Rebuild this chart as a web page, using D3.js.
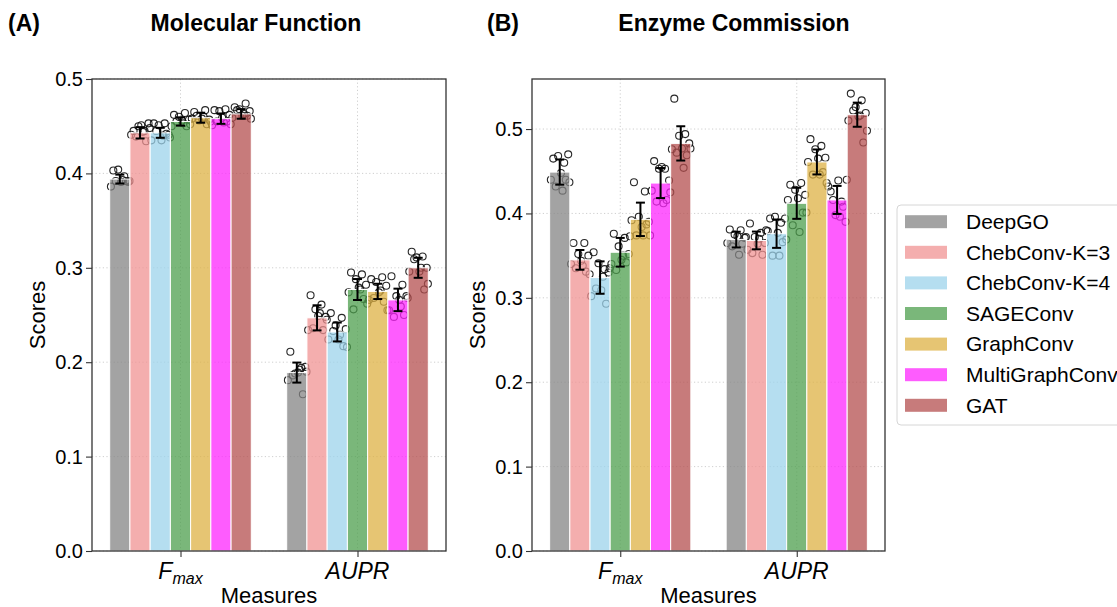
<!DOCTYPE html>
<html>
<head>
<meta charset="utf-8">
<script src="https://cdn.jsdelivr.net/npm/d3@7"></script>
<style>
  body { margin: 0; background: #fff; }
  svg { display: block; }
  text { font-family: "Liberation Sans", Arial, Helvetica, sans-serif; fill: #000; }
</style>
</head>
<body>
<svg id="chart" width="1117" height="607"></svg>
<script>
// ---- data -------------------------------------------------------------
const models = ["DeepGO", "ChebConv-K=3", "ChebConv-K=4", "SAGEConv", "GraphConv", "MultiGraphConv", "GAT"];
const measures = ["Fmax", "AUPR"];
const modelColors = ["#848484", "#f09393", "#9cd3eb", "#4e9f4e", "#deb244", "#fe26fe", "#b44f4f"];
const yTickValues = [0.0, 0.1, 0.2, 0.3, 0.4, 0.5];

// Molecular Function: mean score, error half-width, per-run scores
const mfFmaxMean = [0.394, 0.443, 0.443, 0.455, 0.459, 0.458, 0.463];
const mfFmaxErr  = [0.0047, 0.0060, 0.0053, 0.0044, 0.0053, 0.0055, 0.0051];
const mfFmaxRuns = [
  [0.403, 0.397, 0.404, 0.391, 0.391, 0.386, 0.392, 0.392, 0.393, 0.392],
  [0.445, 0.445, 0.450, 0.453, 0.451, 0.441, 0.434, 0.439, 0.444, 0.448],
  [0.453, 0.453, 0.451, 0.441, 0.435, 0.435, 0.442, 0.445, 0.440, 0.438],
  [0.462, 0.464, 0.460, 0.457, 0.456, 0.450, 0.450, 0.455, 0.453, 0.452],
  [0.465, 0.467, 0.456, 0.457, 0.458, 0.458, 0.452, 0.461, 0.460, 0.455],
  [0.467, 0.468, 0.466, 0.462, 0.459, 0.451, 0.455, 0.455, 0.454, 0.452],
  [0.470, 0.474, 0.468, 0.466, 0.461, 0.459, 0.461, 0.467, 0.463, 0.458]
];
const mfAuprMean = [0.189, 0.247, 0.232, 0.277, 0.275, 0.266, 0.300];
const mfAuprErr  = [0.0106, 0.0133, 0.0100, 0.0111, 0.0081, 0.0119, 0.0106];
const mfAuprRuns = [
  [0.211, 0.194, 0.188, 0.195, 0.189, 0.181, 0.166, 0.186, 0.192, 0.190],
  [0.271, 0.261, 0.256, 0.248, 0.249, 0.234, 0.234, 0.236, 0.252, 0.245],
  [0.252, 0.247, 0.239, 0.235, 0.224, 0.224, 0.217, 0.233, 0.229, 0.216],
  [0.295, 0.293, 0.288, 0.282, 0.279, 0.274, 0.267, 0.256, 0.277, 0.262],
  [0.288, 0.290, 0.285, 0.281, 0.274, 0.266, 0.264, 0.268, 0.276, 0.255],
  [0.291, 0.282, 0.270, 0.270, 0.266, 0.255, 0.250, 0.248, 0.259, 0.268],
  [0.317, 0.312, 0.311, 0.300, 0.296, 0.296, 0.277, 0.309, 0.300, 0.283]
];

// Enzyme Commission
const ecFmaxMean = [0.449, 0.345, 0.324, 0.354, 0.393, 0.436, 0.483];
const ecFmaxErr  = [0.0149, 0.0117, 0.0192, 0.0170, 0.0198, 0.0178, 0.0203];
const ecFmaxRuns = [
  [0.465, 0.460, 0.468, 0.470, 0.448, 0.440, 0.440, 0.432, 0.427, 0.437],
  [0.365, 0.365, 0.352, 0.350, 0.344, 0.340, 0.331, 0.335, 0.338, 0.328],
  [0.354, 0.334, 0.341, 0.330, 0.309, 0.302, 0.293, 0.311, 0.325, 0.335],
  [0.376, 0.371, 0.361, 0.352, 0.345, 0.340, 0.342, 0.333, 0.350, 0.373],
  [0.437, 0.426, 0.396, 0.390, 0.384, 0.392, 0.387, 0.374, 0.374, 0.374],
  [0.462, 0.453, 0.453, 0.439, 0.455, 0.427, 0.416, 0.414, 0.412, 0.425],
  [0.536, 0.494, 0.492, 0.483, 0.477, 0.476, 0.469, 0.472, 0.454, 0.477]
];
const ecAuprMean = [0.369, 0.368, 0.376, 0.412, 0.461, 0.416, 0.517];
const ecAuprErr  = [0.0093, 0.0105, 0.0168, 0.0184, 0.0148, 0.0166, 0.0143];
const ecAuprRuns = [
  [0.381, 0.380, 0.375, 0.371, 0.373, 0.365, 0.364, 0.361, 0.351, 0.372],
  [0.388, 0.377, 0.372, 0.365, 0.364, 0.357, 0.351, 0.353, 0.370, 0.380],
  [0.394, 0.389, 0.396, 0.394, 0.377, 0.379, 0.366, 0.350, 0.350, 0.369],
  [0.434, 0.436, 0.428, 0.422, 0.418, 0.416, 0.401, 0.386, 0.378, 0.401],
  [0.488, 0.480, 0.476, 0.466, 0.465, 0.461, 0.449, 0.446, 0.446, 0.436],
  [0.426, 0.414, 0.398, 0.390, 0.439, 0.432, 0.408, 0.416, 0.396, 0.440],
  [0.542, 0.534, 0.526, 0.519, 0.515, 0.510, 0.484, 0.522, 0.516, 0.498]
];

// ---- drawing ----------------------------------------------------------
const svg = d3.select("#chart");
const font = "Liberation Sans, Arial, Helvetica, sans-serif";

// horizontal spread of the individual runs, as a fraction of a bar width
const spread = [-0.32, 0.22, -0.08, 0.42, 0.06, -0.44, 0.30, -0.20, 0.14, 0.48];

function panel(cfg) {
  const { left, right, top, bottom, yMax, series, tag, title, titleX, tagX, ylabX } = cfg;
  const g = svg.append("g");

  const x = d3.scaleLinear().domain([-0.5, 1.5]).range([left, right]);
  const y = d3.scaleLinear().domain([0, yMax]).range([bottom, top]);
  const unit = x(1) - x(0);
  const barW = unit * 0.8 / models.length;
  const barX = (mi, k) => x(mi) - unit * 0.4 + k * barW;

  // grid
  const grid = g.append("g").attr("stroke", "#c9c9c9").attr("stroke-width", 0.9)
    .attr("stroke-dasharray", "1.2,2.4");
  grid.selectAll("line.h").data(yTickValues).join("line")
    .attr("x1", left).attr("x2", right)
    .attr("y1", d => y(d)).attr("y2", d => y(d));
  grid.selectAll("line.v").data(measures).join("line")
    .attr("x1", (d, i) => x(i)).attr("x2", (d, i) => x(i))
    .attr("y1", top).attr("y2", bottom);

  // individual runs (drawn underneath the translucent bars)
  series.forEach((s, mi) => {
    s.runs.forEach((vals, k) => {
      g.append("g").selectAll("circle").data(vals).join("circle")
        .attr("cx", (d, j) => barX(mi, k) + barW / 2 + spread[j] * barW)
        .attr("cy", d => y(d))
        .attr("r", 3.5)
        .attr("fill", "none")
        .attr("stroke", "#111")
        .attr("stroke-opacity", 0.9)
        .attr("stroke-width", 1.1);
    });
  });

  // bars
  series.forEach((s, mi) => {
    g.append("g").selectAll("rect").data(s.mean).join("rect")
      .attr("x", (d, k) => barX(mi, k))
      .attr("width", barW)
      .attr("y", d => y(d))
      .attr("height", d => bottom - y(d))
      .attr("fill", (d, k) => modelColors[k])
      .attr("fill-opacity", 0.75)
      .attr("stroke", "#fff")
      .attr("stroke-width", 1);
  });

  // error bars
  series.forEach((s, mi) => {
    const eg = g.append("g").attr("stroke", "#000").attr("stroke-width", 2);
    s.mean.forEach((m, k) => {
      const cx = barX(mi, k) + barW / 2;
      const lo = y(m - s.err[k]), hi = y(m + s.err[k]);
      eg.append("line").attr("x1", cx).attr("x2", cx).attr("y1", lo).attr("y2", hi);
      eg.append("line").attr("x1", cx - 4.5).attr("x2", cx + 4.5).attr("y1", lo).attr("y2", lo);
      eg.append("line").attr("x1", cx - 4.5).attr("x2", cx + 4.5).attr("y1", hi).attr("y2", hi);
    });
  });

  // frame
  g.append("rect").attr("x", left).attr("y", top)
    .attr("width", right - left).attr("height", bottom - top)
    .attr("fill", "none").attr("stroke", "#333").attr("stroke-width", 1.3);

  // y axis
  const yAxis = d3.axisLeft(y).tickValues(yTickValues).tickFormat(d3.format(".1f"))
    .tickSizeOuter(0).tickSizeInner(6).tickPadding(3);
  const ya = g.append("g").attr("transform", `translate(${left},0)`).call(yAxis);
  ya.select(".domain").remove();
  ya.selectAll(".tick line").attr("stroke", "#333").attr("stroke-width", 1.1);
  ya.selectAll(".tick text").attr("font-size", 20).attr("font-family", font).attr("fill", "#000");

  // x axis
  const xAxis = d3.axisBottom(x).tickValues([0, 1]).tickFormat(() => "")
    .tickSizeOuter(0).tickSizeInner(6);
  const xa = g.append("g").attr("transform", `translate(0,${bottom})`).call(xAxis);
  xa.select(".domain").remove();
  xa.selectAll(".tick line").attr("stroke", "#333").attr("stroke-width", 1.1);

  // measure labels
  const fl = g.append("text").attr("x", x(0)).attr("y", bottom + 28)
    .attr("text-anchor", "middle").attr("font-size", 23).attr("font-style", "italic");
  fl.append("tspan").text("F");
  fl.append("tspan").attr("font-size", 16).attr("dy", 5).text("max");
  g.append("text").attr("x", x(1)).attr("y", bottom + 28)
    .attr("text-anchor", "middle").attr("font-size", 23).attr("font-style", "italic")
    .text("AUPR");

  g.append("text").attr("x", (left + right) / 2).attr("y", 603)
    .attr("text-anchor", "middle").attr("font-size", 22).text("Measures");
  g.append("text")
    .attr("transform", `translate(${ylabX},${(top + bottom) / 2}) rotate(-90)`)
    .attr("text-anchor", "middle").attr("font-size", 22).text("Scores");

  // titles
  g.append("text").attr("x", titleX).attr("y", 31).attr("text-anchor", "middle")
    .attr("font-size", 23).attr("font-weight", "bold").text(title);
  g.append("text").attr("x", tagX).attr("y", 31)
    .attr("font-size", 23).attr("font-weight", "bold").text(tag);
}

panel({
  left: 92, right: 446, top: 79, bottom: 551, yMax: 0.5,
  tag: "(A)", tagX: 8, title: "Molecular Function", titleX: 256, ylabX: 45,
  series: [
    { mean: mfFmaxMean, err: mfFmaxErr, runs: mfFmaxRuns },
    { mean: mfAuprMean, err: mfAuprErr, runs: mfAuprRuns }
  ]
});

panel({
  left: 532, right: 885, top: 79, bottom: 551, yMax: 0.5593,
  tag: "(B)", tagX: 487, title: "Enzyme Commission", titleX: 734, ylabX: 485,
  series: [
    { mean: ecFmaxMean, err: ecFmaxErr, runs: ecFmaxRuns },
    { mean: ecAuprMean, err: ecAuprErr, runs: ecAuprRuns }
  ]
});

// legend
const lg = svg.append("g");
lg.append("rect").attr("x", 897).attr("y", 205).attr("width", 260).attr("height", 220)
  .attr("rx", 4).attr("fill", "#fff").attr("stroke", "#d6d6d6").attr("stroke-width", 1);
const rows = lg.selectAll("g.row").data(models).join("g")
  .attr("transform", (d, i) => `translate(0,${221.7 + i * 30.6})`);
rows.append("rect").attr("x", 905).attr("y", -6.5).attr("width", 42).attr("height", 13)
  .attr("fill", (d, i) => modelColors[i]).attr("fill-opacity", 0.75);
rows.append("text").attr("x", 966).attr("dy", "0.35em").attr("font-size", 21).text(d => d);
</script>
</body>
</html>
